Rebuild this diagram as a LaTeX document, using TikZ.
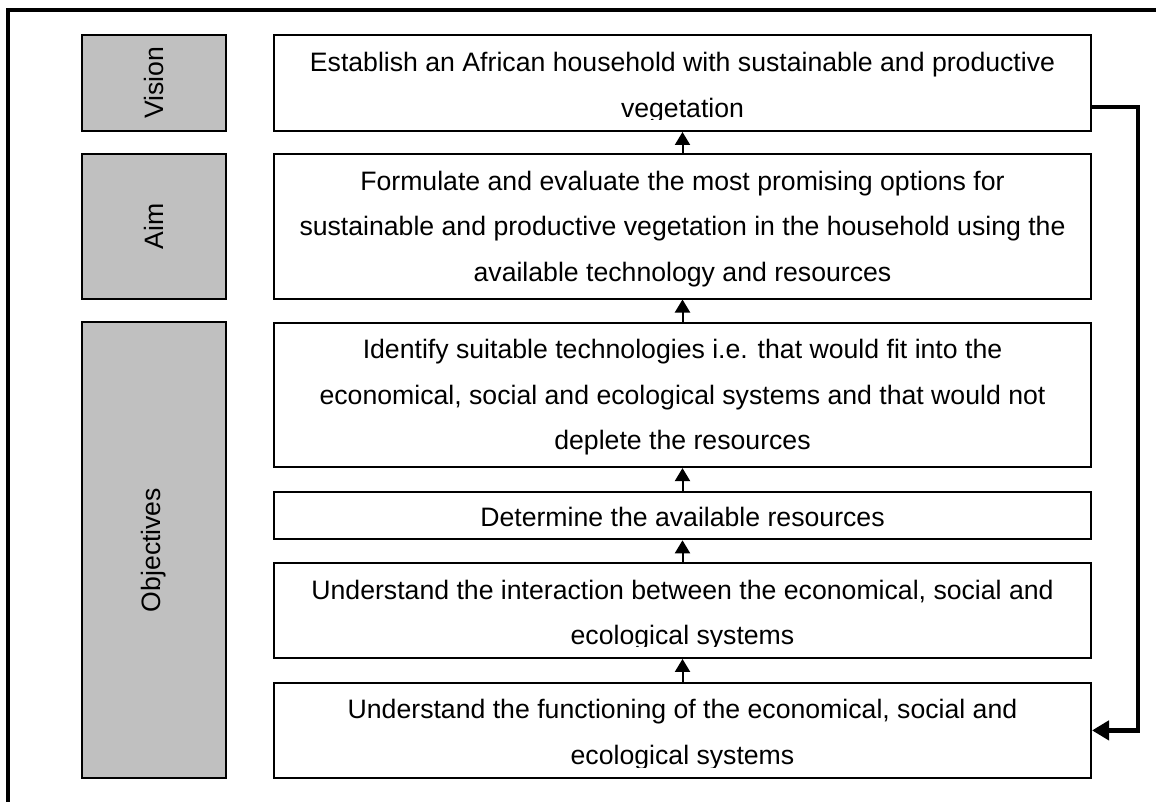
\documentclass[tikz,border=0pt]{standalone}
\usepackage{fontspec}
\setmainfont{Liberation Sans}
\usetikzlibrary{arrows.meta}
\tikzset{
  frameline/.style={line width=3.5pt, line join=miter, line cap=rect},
  wbox/.style={draw=black, line width=2pt, fill=white, rectangle, inner sep=0pt, minimum width=817pt},
  gbox/.style={draw=black, line width=2pt, fill={rgb,255:red,192;green,192;blue,192}, rectangle, inner sep=0pt, rotate=90, minimum height=144pt, font=\fontsize{26.6}{30}\selectfont},
  txt/.style={align=center, inner sep=0pt, anchor=base, font=\fontsize{26.65}{45.5}\selectfont},
  sarr/.style={line width=2pt, -{Triangle[length=13pt,width=15pt]}},
  fbarr/.style={line width=4.5pt, line join=miter, -{Triangle[length=17pt,width=19pt]}}
}
\begin{document}
\begin{tikzpicture}[x=1pt,y=-1pt]
\useasboundingbox (0,0) rectangle (1156,802);
% outer frame
\draw[frameline] (8,802) -- (8,10) -- (1160,10);

% grey labels
\node[gbox, minimum width=96pt] (lvis) at (154,83) {Vision};
\node[gbox, minimum width=144pt] (laim) at (154,226.5) {Aim};
\node[gbox, minimum width=456pt] (lobj) at (154,550) {Objectives};

% white boxes
\node[wbox, minimum height=96pt] (vis) at (682.5,83) {};
\node[wbox, minimum height=144pt] (aim) at (682.5,226.5) {};
\node[wbox, minimum height=144.5pt] (o1) at (682.5,394.8) {};
\node[wbox, minimum height=47.6pt] (o2) at (682.5,515.5) {};
\node[wbox, minimum height=94.7pt] (o3) at (682.5,610.6) {};
\node[wbox, minimum height=95.3pt] (o4) at (682.5,730.4) {};

% texts (base anchor = baseline of the last line; clipped like the original text frames)
\begin{scope}
\clip (vis.north west) rectangle ([yshift=12pt]vis.south east);
\node[txt] (tvis) at (682.5,117.2) {Establish an African household with sustainable and productive\\vegetation};
\end{scope}
\begin{scope}
\clip (aim.north west) rectangle ([yshift=12pt]aim.south east);
\node[txt] (taim) at (682.5,281) {Formulate and evaluate the most promising options for\\sustainable and productive vegetation in the household using the\\available technology and resources};
\end{scope}
\begin{scope}
\clip (o1.north west) rectangle ([yshift=12pt]o1.south east);
\node[txt] (to1) at (682.5,449.7) {Identify suitable technologies i.e. that would fit into the\\economical, social and ecological systems and that would not\\deplete the resources};
\end{scope}
\node[txt] (to2) at (682.5,526.7) {Determine the available resources};
\begin{scope}
\clip (o3.north west) rectangle ([yshift=12pt]o3.south east);
\node[txt] (to3) at (682.5,644.8) {Understand the interaction between the economical, social and\\ecological systems};
\end{scope}
\begin{scope}
\clip (o4.north west) rectangle ([yshift=12pt]o4.south east);
\node[txt] (to4) at (682.5,764.2) {Understand the functioning of the economical, social and\\ecological systems};
\end{scope}

% upward arrows
\draw[sarr] (aim.north) -- (vis.south);
\draw[sarr] (o1.north) -- (aim.south);
\draw[sarr] (o2.north) -- (o1.south);
\draw[sarr] (o3.north) -- (o2.south);
\draw[sarr] (o4.north) -- (o3.south);

% feedback arrow
\coordinate (fbtop) at (1138,107);
\draw[fbarr] ([yshift=-24pt]vis.east) -- (fbtop) |- (o4.east);
\end{tikzpicture}
\end{document}
